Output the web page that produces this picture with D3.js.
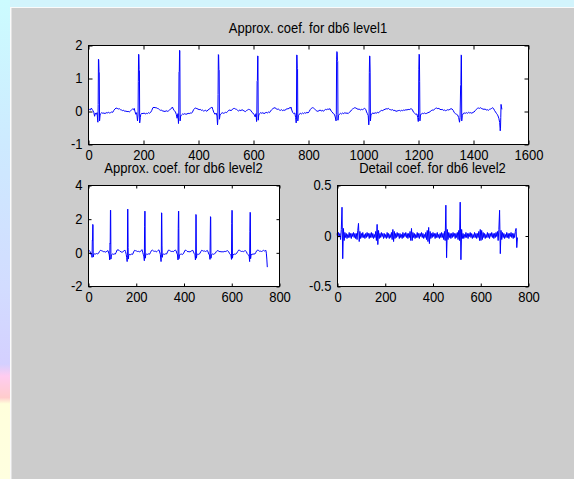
<!DOCTYPE html>
<html>
<head>
<meta charset="utf-8">
<script src="https://cdn.jsdelivr.net/npm/d3@7"></script>
<style>
  body { margin: 0; overflow: hidden; }
  svg { display: block; }
  text { font-family: 'Liberation Sans', Arial, sans-serif; font-size: 14px; fill: #000; }
</style>
</head>
<body>
<svg id="fig"></svg>
<script>
// ---- data ----

const titles = ['Approx. coef. for db6 level1', 'Approx. coef. for db6 level2', 'Detail coef. for db6 level2']

const level1XTicks = [0, 200, 400, 600, 800, 1000, 1200, 1400, 1600]
const level1YTicks = [-1, 0, 1, 2]
const level2XTicks = [0, 200, 400, 600, 800]
const level2YTicks = [-2, 0, 2, 4]
const detail2YTicks = [-0.5, 0, 0.5]

// approximation coefficients, level 1: [sample, value]
const level1 = [
  [0,0.04],[3,0.02],[6,0.05],[9,0.03],[12,0.09],[15,0.05],[18,0.01],[21,-0.04],[24,-0.16],[27,-0.06],[30,-0.1],[33,-0.05],[35,-0.28],[36,-0.34],[37,0.2],[38,1.57],[39,1.55],[40,1.2],[41,1.17],[42,-0.3],[44,-0.12],
  [46,-0.08],[50,-0.05],[54,-0.07],[58,-0.06],[62,-0.08],[66,-0.05],[70,-0.06],[74,-0.04],[78,-0.06],[82,-0.05],[86,-0.03],[90,-0.04],[94,0.02],[98,0.06],[102,0.09],[106,0.08],[110,0.06],[114,0.07],[118,0.04],[122,0.03],[126,0.01],[130,0.02],[134,-0.01],[138,0.0],[142,-0.02],[146,-0.01],[150,-0.03],[154,0.0],[158,0.03],[162,0.06],[165,0.04],[168,0.08],[171,-0.02],[174,-0.1],[177,-0.05],[180,-0.3],[182,-0.12],[183,0.9],[184,1.72],[185,1.7],[186,1.25],[187,1.22],[188,-0.36],[190,-0.2],
  [192,-0.1],[196,-0.07],[200,-0.08],[204,-0.06],[208,-0.09],[212,-0.07],[216,-0.08],[220,-0.05],[224,-0.07],[228,-0.04],[232,0.02],[236,0.1],[240,0.11],[244,0.1],[248,0.1],[252,0.08],[256,0.07],[260,0.04],[264,0.02],[268,0.03],[272,-0.01],[276,0.0],[280,-0.02],[284,0.01],[288,-0.01],[292,0.0],[296,0.03],[300,0.05],[304,0.09],[307,0.12],[310,0.06],[314,0.01],[318,-0.03],[321,-0.1],[324,-0.22],[327,-0.08],[329,-0.38],[330,-0.2],[331,1.18],[332,1.2],[333,1.84],[334,1.82],[335,-0.3],[337,-0.15],
  [340,-0.12],[344,-0.09],[348,-0.1],[352,-0.08],[356,-0.1],[360,-0.09],[364,-0.07],[368,-0.08],[372,-0.06],[376,-0.07],[380,-0.03],[384,0.04],[388,0.08],[392,0.09],[396,0.07],[400,0.06],[404,0.04],[408,0.05],[412,0.02],[416,0.03],[420,0.0],[424,0.01],[428,0.02],[432,-0.01],[436,0.03],[440,0.05],[444,0.08],[448,0.1],[451,0.12],[454,0.04],[458,-0.05],[462,-0.1],[466,-0.06],[469,-0.15],[471,-0.42],[472,-0.3],[473,0.5],[474,1.71],[475,1.7],[476,1.26],[477,1.24],[478,-0.25],[480,-0.12],
  [484,-0.08],[488,-0.05],[492,-0.07],[496,-0.06],[500,-0.04],[504,-0.05],[508,-0.01],[512,0.02],[516,0.03],[520,0.01],[524,0.04],[528,0.07],[532,0.08],[536,0.06],[540,0.05],[544,0.02],[548,0.0],[552,0.03],[556,0.01],[560,0.04],[564,0.02],[568,0.0],[572,-0.02],[576,0.01],[580,0.03],[584,0.05],[588,0.04],[592,0.02],[596,-0.04],[600,-0.07],[604,-0.1],[608,-0.18],[611,-0.08],[613,-0.32],[614,-0.1],[615,0.9],[616,0.92],[617,1.67],[618,1.66],[619,-0.28],[621,-0.12],
  [624,-0.08],[628,-0.05],[632,-0.07],[636,-0.05],[640,-0.08],[644,-0.06],[648,-0.04],[652,-0.06],[656,-0.03],[660,-0.05],[664,0.0],[668,0.04],[672,0.07],[676,0.09],[680,0.1],[684,0.07],[688,0.05],[692,0.06],[696,0.03],[700,0.02],[704,0.04],[708,0.01],[712,0.03],[716,0.02],[720,0.05],[724,0.07],[728,0.06],[732,0.1],[735,0.08],[738,0.12],[741,0.03],[744,-0.04],[748,-0.08],[752,-0.06],[755,-0.2],[757,-0.36],[758,-0.25],[759,1.7],[760,1.69],[761,1.28],[762,1.27],[763,-0.3],[765,-0.14],
  [768,-0.1],[772,-0.07],[776,-0.09],[780,-0.06],[784,-0.08],[788,-0.05],[792,-0.07],[796,-0.04],[800,-0.06],[804,-0.02],[808,0.04],[812,0.08],[816,0.1],[820,0.09],[824,0.06],[828,0.03],[832,0.0],[836,-0.01],[840,0.01],[844,0.03],[848,0.0],[852,0.02],[856,-0.01],[860,0.03],[864,0.05],[868,0.04],[872,0.06],[876,0.05],[880,0.07],[884,0.0],[888,-0.03],[892,-0.08],[896,-0.1],[899,-0.18],[902,-0.3],[903,-0.1],[904,1.55],[905,1.8],[906,1.78],[907,1.52],[908,1.5],[909,-0.28],[911,-0.13],
  [914,-0.1],[918,-0.07],[922,-0.09],[926,-0.06],[930,-0.08],[934,-0.05],[938,-0.07],[942,-0.06],[946,-0.08],[950,-0.04],[954,-0.02],[958,0.03],[962,0.06],[966,0.08],[970,0.1],[974,0.09],[978,0.07],[982,0.05],[986,0.06],[990,0.03],[994,0.05],[998,0.04],[1002,0.06],[1006,0.08],[1010,0.05],[1013,-0.03],[1016,-0.08],[1019,-0.14],[1021,-0.42],[1022,-0.3],[1023,1.17],[1024,1.67],[1025,1.65],[1026,1.18],[1027,-0.3],[1029,-0.12],
  [1032,-0.08],[1036,-0.06],[1040,-0.08],[1044,-0.05],[1048,-0.07],[1052,-0.04],[1056,-0.06],[1060,-0.02],[1064,0.0],[1068,0.02],[1072,0.01],[1076,0.04],[1080,0.05],[1084,0.07],[1088,0.06],[1092,0.08],[1096,0.05],[1100,0.04],[1104,0.03],[1108,0.04],[1112,0.01],[1116,0.02],[1120,-0.01],[1124,0.0],[1128,0.01],[1132,0.02],[1136,0.0],[1140,0.02],[1144,0.01],[1148,0.03],[1152,0.02],[1156,0.04],[1160,0.03],[1164,0.05],[1168,0.04],[1172,0.06],[1176,0.07],[1180,0.03],[1184,-0.04],[1188,-0.07],[1192,-0.1],[1196,-0.09],[1199,-0.2],[1201,-0.32],[1202,-0.2],[1203,1.25],[1204,1.72],[1205,1.7],[1206,0.9],[1207,-0.3],[1209,-0.12],
  [1212,-0.09],[1216,-0.07],[1220,-0.08],[1224,-0.06],[1228,-0.08],[1232,-0.07],[1236,-0.05],[1240,-0.04],[1244,-0.02],[1248,0.01],[1252,0.03],[1256,0.02],[1260,0.06],[1264,0.08],[1268,0.09],[1272,0.07],[1276,0.08],[1280,0.05],[1284,0.04],[1288,0.05],[1292,0.02],[1296,0.03],[1300,0.01],[1304,0.02],[1308,0.04],[1312,0.03],[1316,0.05],[1320,0.07],[1324,0.06],[1328,0.02],[1332,-0.05],[1336,-0.08],[1340,-0.1],[1344,-0.12],[1348,-0.2],[1351,-0.34],[1353,-0.2],[1355,0.78],[1356,0.8],[1357,1.7],[1358,1.68],[1359,-0.3],[1361,-0.14],
  [1364,-0.08],[1368,-0.06],[1372,-0.07],[1376,-0.05],[1380,-0.07],[1384,-0.04],[1388,-0.06],[1392,-0.05],[1396,-0.07],[1400,-0.04],[1404,-0.03],[1408,0.01],[1412,0.05],[1416,0.08],[1420,0.09],[1424,0.08],[1428,0.1],[1432,0.07],[1436,0.06],[1440,0.05],[1444,0.06],[1448,0.03],[1452,0.04],[1456,0.02],[1460,0.05],[1464,0.06],[1468,0.08],[1472,0.1],[1475,0.07],[1478,0.02],[1482,-0.03],[1485,-0.07],[1488,-0.1],[1491,-0.15],[1494,-0.22],[1497,-0.35],[1499,-0.6],[1500,-0.52],[1501,-0.2],[1502,0.2],[1503,0.15],[1505,0.05]
]

// approximation coefficients, level 2: [sample, value]
const level2 = [
  [0,0.03],[3,0.06],[6,0.1],[9,0.04],[12,-0.12],[15,-0.05],[17,-0.3],[18,0.73],[19,0.7],[20,1.66],[21,1.62],[22,-0.28],[24,-0.12],
  [28,-0.09],[32,-0.1],[36,-0.07],[40,-0.09],[44,-0.06],[48,0.05],[52,0.12],[56,0.1],[60,0.08],[64,0.04],[68,0.05],[72,0.01],[76,0.03],[80,0.08],[84,0.1],[87,-0.05],[89,-0.15],[91,-0.45],[92,0.53],[93,0.5],[94,2.51],[95,2.48],[96,-0.4],[98,-0.15],
  [102,-0.1],[106,-0.12],[110,-0.09],[114,-0.11],[118,0.0],[122,0.14],[126,0.15],[130,0.12],[134,0.06],[138,0.04],[142,0.0],[146,0.03],[150,0.07],[154,0.14],[157,0.05],[160,-0.12],[162,-0.3],[164,-0.55],[165,-0.2],[166,2.57],[167,2.55],[168,0.3],[169,-0.4],[171,-0.15],
  [175,-0.12],[179,-0.14],[183,-0.1],[187,-0.12],[191,0.02],[195,0.12],[199,0.1],[203,0.08],[207,0.05],[211,0.06],[215,0.03],[219,0.05],[223,0.1],[226,0.16],[229,0.0],[232,-0.14],[234,-0.22],[236,-0.5],[237,1.52],[238,2.45],[239,2.42],[240,-0.35],[242,-0.14],
  [246,-0.1],[250,-0.12],[254,-0.09],[258,-0.11],[262,0.0],[266,0.11],[270,0.13],[274,0.08],[278,0.06],[282,0.07],[286,0.03],[290,0.06],[294,0.12],[297,0.15],[300,0.02],[303,-0.12],[306,-0.55],[307,-0.3],[308,2.35],[309,2.33],[310,0.43],[311,-0.3],[313,-0.12],
  [317,-0.1],[321,-0.12],[325,-0.09],[329,-0.1],[333,0.02],[337,0.13],[341,0.12],[345,0.08],[349,0.05],[353,0.06],[357,0.04],[361,0.08],[365,0.14],[369,0.1],[372,-0.05],[375,-0.15],[377,-0.45],[378,1.42],[379,2.45],[380,2.43],[381,-0.38],[383,-0.15],
  [387,-0.12],[391,-0.1],[395,-0.13],[399,-0.09],[403,0.02],[407,0.13],[411,0.12],[415,0.06],[419,0.03],[423,0.05],[427,0.02],[431,0.06],[435,0.1],[439,0.12],[442,0.02],[445,-0.08],[448,-0.14],[450,-0.45],[451,-0.2],[452,2.25],[453,2.22],[454,-0.35],[456,-0.15],
  [460,-0.1],[464,-0.12],[468,-0.08],[472,0.03],[476,0.12],[480,0.1],[484,0.07],[488,0.08],[492,0.05],[496,0.08],[500,0.11],[503,0.02],[506,-0.1],[509,-0.16],[511,-0.42],[512,1.03],[513,2.12],[514,2.1],[515,-0.35],[517,-0.14],
  [521,-0.1],[525,-0.12],[529,-0.09],[533,-0.06],[537,0.04],[541,0.1],[545,0.09],[549,0.06],[553,0.03],[557,0.05],[561,0.02],[565,0.04],[569,0.03],[573,0.06],[577,0.05],[581,0.08],[585,0.1],[589,0.04],[593,-0.08],[596,-0.12],[599,-0.2],[601,-0.42],[602,1.72],[603,2.5],[604,2.47],[605,-0.35],[607,-0.14],
  [611,-0.12],[615,-0.1],[619,-0.11],[623,-0.05],[627,0.05],[631,0.13],[635,0.12],[639,0.08],[643,0.05],[647,0.06],[651,0.04],[655,0.08],[659,0.1],[663,0.05],[667,-0.08],[671,-0.14],[675,-0.22],[677,-0.55],[678,1.23],[679,2.38],[680,2.35],[681,-0.38],[683,-0.15],
  [687,-0.1],[691,-0.12],[695,-0.09],[699,-0.1],[703,0.0],[707,0.1],[711,0.13],[715,0.11],[719,0.06],[723,0.07],[727,0.05],[731,0.08],[735,0.12],[739,0.08],[742,0.1],[745,0.12],[747,-0.05],[749,-0.4],[751,-0.88]
]

// detail coefficients, level 2: one value every 3 samples
const detail2Step = 3
const detail2 = [
  0.02,-0.02,0.03,-0.01,0.02,-0.04,0.06,0.28,-0.23,0.07,
  -0.05,0.03,-0.02,0.02,-0.03,0.01,-0.02,0.03,-0.02,0.02,
  -0.03,0.02,-0.01,0.03,-0.02,0.02,-0.03,0.02,-0.04,0.05,
  0.12,-0.06,0.04,-0.03,0.02,-0.02,0.03,-0.02,0.01,-0.03,
  0.02,-0.02,0.03,-0.01,0.02,-0.03,0.02,-0.02,0.03,-0.02,
  0.02,-0.03,0.01,-0.02,0.04,-0.05,0.11,-0.09,0.05,-0.03,
  0.02,-0.02,0.03,-0.01,0.02,-0.03,0.02,-0.02,0.01,-0.03,
  0.03,-0.02,0.02,-0.03,0.01,-0.02,0.03,-0.04,0.06,-0.06,
  0.04,-0.03,0.02,-0.02,0.03,-0.01,0.02,-0.03,0.02,-0.02,
  0.01,-0.03,0.03,-0.02,0.02,-0.01,0.03,-0.02,0.02,-0.03,
  0.02,-0.02,0.04,-0.05,0.07,-0.05,0.03,-0.02,0.02,-0.03,
  0.01,-0.02,0.03,-0.02,0.02,-0.03,0.02,-0.01,0.03,-0.02,
  0.02,-0.03,0.01,-0.02,0.03,-0.04,0.05,-0.06,0.08,-0.08,
  0.04,-0.03,0.02,-0.02,0.03,-0.01,0.02,-0.03,0.02,-0.02,
  0.03,-0.02,0.01,-0.03,0.02,-0.02,0.03,-0.02,0.02,-0.04,
  0.04,-0.05,0.3,-0.22,0.06,-0.04,0.03,-0.02,0.02,-0.03,
  0.02,-0.02,0.03,-0.01,0.02,-0.03,0.02,-0.02,0.03,-0.04,
  0.05,-0.05,0.33,-0.24,0.06,-0.03,0.02,-0.03,0.01,-0.02,
  0.03,-0.02,0.02,-0.03,0.02,-0.01,0.03,-0.02,0.02,-0.03,
  0.01,-0.02,0.03,-0.02,0.02,-0.03,0.02,-0.02,0.04,-0.05,
  0.06,-0.05,0.05,-0.04,0.03,-0.02,0.02,-0.03,0.01,-0.02,
  0.03,-0.02,0.02,-0.03,0.02,-0.01,0.03,-0.02,0.02,-0.03,
  0.02,-0.02,0.03,-0.01,0.04,-0.05,0.06,0.25,-0.18,0.05,
  -0.04,0.03,-0.02,0.02,-0.03,0.01,-0.02,0.03,-0.02,0.02,
  -0.03,0.02,-0.01,0.03,-0.02,0.02,-0.03,0.02,-0.02,0.04,
  0.07,-0.12,-0.02
]

// ---- figure ----

const width = 574
const height = 479
const squeeze = 'scale(0.93,1)'   // matlab's helvetica is a bit narrower

const svg = d3.select('#fig')
  .attr('width', width)
  .attr('height', height)

const defs = svg.append('defs')
const strip = defs.append('linearGradient')
  .attr('id', 'strip')
  .attr('x1', 0).attr('y1', 0).attr('x2', 0).attr('y2', 1)
const stops = [[0, '#ccfcff'], [0.3, '#cdeaff'], [0.6, '#d2dcff'], [0.76, '#d4d0ff'], [0.785, '#ffccf0'], [0.83, '#ffcccc'], [0.843, '#ffffdc'], [1, '#ffffe0']]
stops.forEach(s => strip.append('stop').attr('offset', s[0]).attr('stop-color', s[1]))

// desktop bits round the figure window
svg.append('rect').attr('width', width).attr('height', height).attr('fill', '#d2f4fc')
svg.append('rect').attr('width', 10).attr('height', height).attr('fill', 'url(#strip)')
svg.append('rect').attr('x', 10).attr('y', 7).attr('width', width - 10).attr('height', height - 7).attr('fill', '#fafafa')
svg.append('rect').attr('x', 11).attr('y', 8).attr('width', width - 11).attr('height', height - 8).attr('fill', '#e2e2e2')
svg.append('rect').attr('x', 12).attr('y', 8).attr('width', width - 12).attr('height', height - 8).attr('fill', '#cccccc')

const fmt = d => String(d)

function drawAxes(opts) {
  const { x0, y0, w, h, xDomain, yDomain, xTicks, yTicks, tick, title, points } = opts

  const x = d3.scaleLinear().domain(xDomain).range([x0, x0 + w])
  const y = d3.scaleLinear().domain(yDomain).range([y0 + h, y0])

  const g = svg.append('g')

  g.append('rect')
    .attr('x', x0 + 0.5).attr('y', y0 + 0.5)
    .attr('width', w).attr('height', h)
    .attr('fill', '#fff')

  const line = d3.line()
    .x(d => x(d[0]))
    .y(d => y(d[1]))

  g.append('path')
    .datum(points)
    .attr('d', line)
    .attr('fill', 'none')
    .attr('stroke', '#0000ff')
    .attr('stroke-width', 1)

  const bottom = d3.axisBottom(x).tickValues(xTicks).tickFormat(fmt).tickSizeInner(-tick).tickSizeOuter(0).tickPadding(6)
  const top = d3.axisTop(x).tickValues(xTicks).tickFormat('').tickSizeInner(-tick).tickSizeOuter(0)
  const left = d3.axisLeft(y).tickValues(yTicks).tickFormat(fmt).tickSizeInner(-tick).tickSizeOuter(0).tickPadding(6.5)
  const right = d3.axisRight(y).tickValues(yTicks).tickFormat('').tickSizeInner(-tick).tickSizeOuter(0)

  const axes = [
    [bottom, `translate(0.5,${y0 + h + 0.5})`],
    [top, `translate(0.5,${y0 + 0.5})`],
    [left, `translate(${x0 + 0.5},0.5)`],
    [right, `translate(${x0 + w + 0.5},0.5)`]
  ]
  axes.forEach(([ax, tr]) => {
    const a = g.append('g').attr('transform', tr).call(ax)
    a.select('.domain').remove()
    a.selectAll('line').attr('stroke', '#000')
    a.selectAll('text')
      .attr('font-family', null).attr('font-size', null).attr('fill', '#000')
      .attr('transform', squeeze)
  })

  g.append('rect')
    .attr('x', x0 + 0.5).attr('y', y0 + 0.5)
    .attr('width', w).attr('height', h)
    .attr('fill', 'none')
    .attr('stroke', '#000')

  g.append('text')
    .attr('transform', `translate(${x0 + w / 2},${y0 - 12}) ${squeeze}`)
    .attr('text-anchor', 'middle')
    .text(title)
}

drawAxes({
  x0: 88, y0: 45, w: 440, h: 99,
  xDomain: [0, 1600], yDomain: [-1, 2],
  xTicks: level1XTicks, yTicks: level1YTicks,
  tick: 4, title: titles[0], points: level1
})

drawAxes({
  x0: 88, y0: 185, w: 191, h: 101,
  xDomain: [0, 800], yDomain: [-2, 4],
  xTicks: level2XTicks, yTicks: level2YTicks,
  tick: 3, title: titles[1], points: level2
})

drawAxes({
  x0: 337, y0: 185, w: 191, h: 101,
  xDomain: [0, 800], yDomain: [-0.5, 0.5],
  xTicks: level2XTicks, yTicks: detail2YTicks,
  tick: 3, title: titles[2], points: detail2.map((v, i) => [i * detail2Step, v])
})
</script>
</body>
</html>
